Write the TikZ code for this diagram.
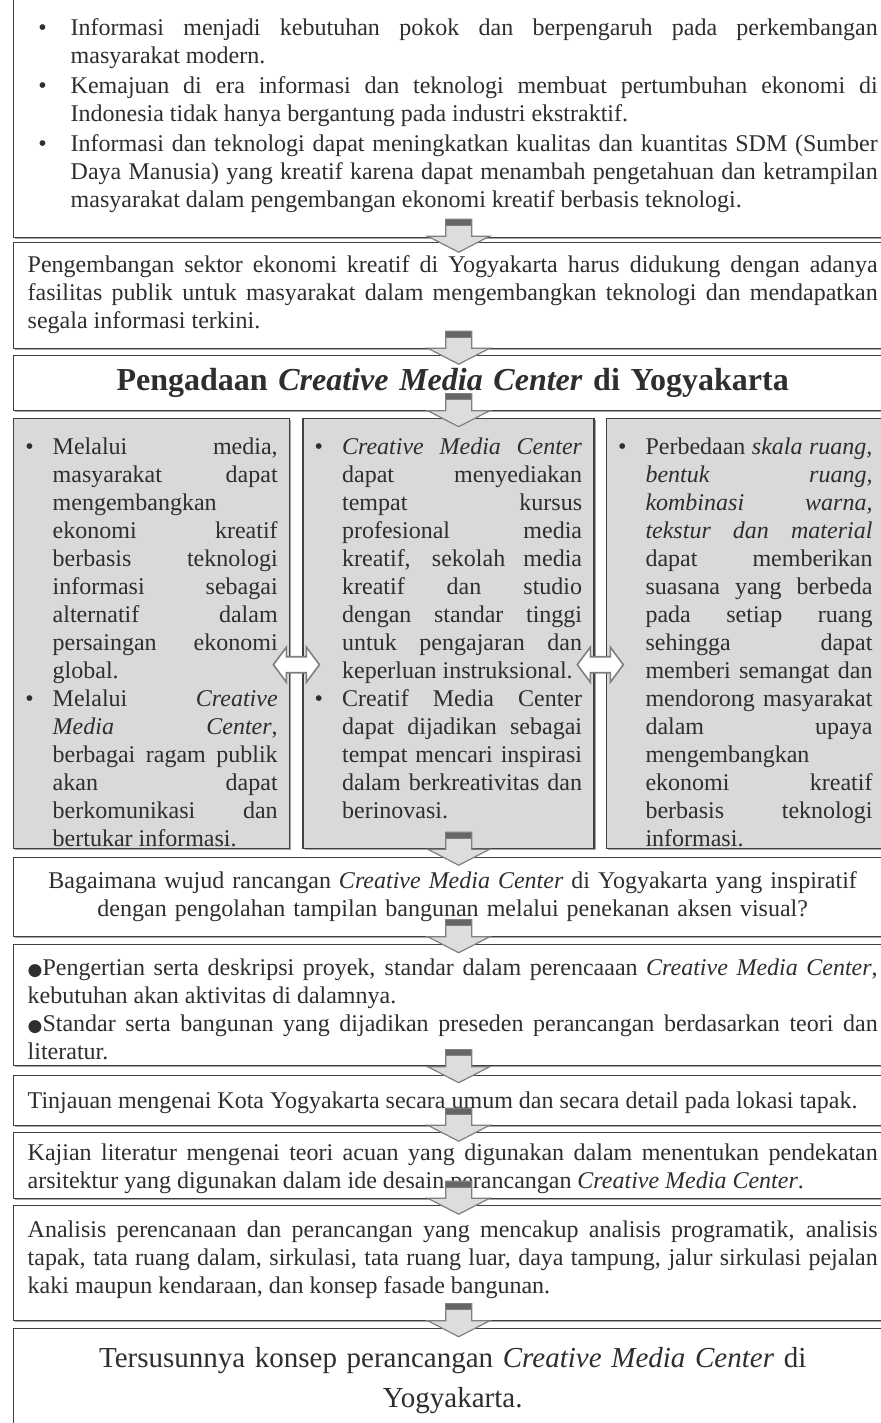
\documentclass[tikz,border=0pt]{standalone}
\usepackage{fontspec}
\setmainfont{Liberation Serif}
\newfontfamily\symfont{DejaVu Sans}
\usepackage{enumitem}
\usetikzlibrary{positioning,calc,shadows}

\definecolor{boxline}{HTML}{404040}
\definecolor{colfill}{HTML}{D9D9D9}
\definecolor{arrfill}{HTML}{DDDDDD}
\definecolor{arrline}{HTML}{7F7F7F}
\definecolor{arrcap}{HTML}{666666}
\definecolor{txt}{HTML}{2E2E2E}

\tolerance=10000
\hbadness=10000
\hyphenpenalty=10000
\exhyphenpenalty=10000

\newcommand{\cmc}{\textit{Creative Media Center}}
\newcommand{\bigdot}{{\symfont\fontsize{8.5}{8.5}\selectfont ●}}
\setlist[itemize]{topsep=0pt, partopsep=0pt, parsep=0pt, itemsep=0pt, leftmargin=13.5pt, labelsep=9.5pt}

\tikzset{
  flowbox/.style={rectangle, draw=boxline, line width=0.7pt, fill=white, text=txt,
    drop shadow={shadow xshift=0.7pt, shadow yshift=-0.7pt, fill=gray!70, opacity=1},
    inner ysep=0pt, inner xsep=7pt, anchor=north west, align=justify, text width=425pt,
    font=\fontsize{12}{14}\selectfont},
  colbox/.style={flowbox, fill=colfill, inner xsep=6pt},
  pics/downarrow/.style={code={
    \draw[arrline, line width=0.6pt, fill=arrfill] (-13,-21) -- (13,-21) -- (13,-4) -- (31,-4)
      -- (0,12) -- (-31,-4) -- (-13,-4) -- cycle;
    \draw[arrline, line width=0.6pt, fill=arrcap] (-13,-21) rectangle (13,-15);
  }},
  pics/sidearrow/.style={code={
    \draw[arrline, line width=0.8pt, fill=white] (-23,0) -- (-10,-17.5) -- (-10,-8) -- (10,-8)
      -- (10,-17.5) -- (23,0) -- (10,17.5) -- (10,8) -- (-10,8) -- (-10,17.5) -- cycle;
  }}
}

\begin{document}
\begin{tikzpicture}[x=0.5pt, y=-0.5pt]
  \useasboundingbox (0,0) rectangle (881,1423);

  \node[flowbox, text height=8.5pt, text depth=115pt] at (13,-10) (info) {%
    \begin{itemize}[leftmargin=21.5pt, labelsep=12pt, itemsep=1pt]
      \item Informasi menjadi kebutuhan pokok dan berpengaruh pada perkembangan\linebreak masyarakat modern.
      \item Kemajuan di era informasi dan teknologi membuat pertumbuhan ekonomi di\linebreak Indonesia tidak hanya bergantung pada industri ekstraktif.
      \item Informasi dan teknologi dapat meningkatkan kualitas dan kuantitas SDM (Sumber\linebreak Daya Manusia) yang kreatif karena dapat menambah pengetahuan dan ketrampilan\linebreak masyarakat dalam pengembangan ekonomi kreatif berbasis teknologi.
    \end{itemize}};
  \node[flowbox, text height=15pt, text depth=38pt] at (13,242) (sektor) {Pengembangan sektor ekonomi kreatif di Yogyakarta harus didukung dengan adanya\linebreak fasilitas publik untuk masyarakat dalam mengembangkan teknologi dan mendapatkan\linebreak segala informasi terkini.};
  \node[flowbox, align=center, font=\bfseries\fontsize{16}{19}\selectfont, text height=17.5pt, text depth=10pt] at (13,355) (judul) {Pengadaan \cmc{} di Yogyakarta};

  % three columns
  \node[colbox, text width=126pt, text height=4pt, text depth=211pt] at (13,418) (media) {%
    \begin{itemize}
      \item Melalui media,\linebreak masyarakat dapat\linebreak mengembangkan\linebreak ekonomi kreatif\linebreak berbasis teknologi\linebreak informasi sebagai\linebreak alternatif dalam\linebreak persaingan ekonomi\linebreak global.
      \item Melalui \textit{Creative}\linebreak \textit{Media Center},\linebreak berbagai ragam publik\linebreak akan dapat\linebreak berkomunikasi dan\linebreak bertukar informasi.
    \end{itemize}};
  \node[colbox, text width=133.5pt, text height=4pt, text depth=211pt, right=6pt of media] (kursus) {%
    \begin{itemize}
      \item \cmc\linebreak dapat menyediakan\linebreak tempat kursus\linebreak profesional media\linebreak kreatif, sekolah media\linebreak kreatif dan studio\linebreak dengan standar tinggi\linebreak untuk pengajaran dan\linebreak keperluan instruksional.
      \item Creatif Media Center\linebreak dapat dijadikan sebagai\linebreak tempat mencari inspirasi\linebreak dalam berkreativitas dan\linebreak berinovasi.
    \end{itemize}};
  \node[colbox, text width=127pt, text height=4pt, text depth=211pt, right=5.5pt of kursus] (suasana) {%
    \begin{itemize}
      \item Perbedaan \textit{skala ruang,}\linebreak \textit{bentuk ruang,}\linebreak \textit{kombinasi warna,}\linebreak \textit{tekstur dan material}\linebreak dapat memberikan\linebreak suasana yang berbeda\linebreak pada setiap ruang\linebreak sehingga dapat\linebreak memberi semangat dan\linebreak mendorong masyarakat\linebreak dalam upaya\linebreak mengembangkan\linebreak ekonomi kreatif\linebreak berbasis teknologi\linebreak informasi.
    \end{itemize}};

  \node[flowbox, align=center, text height=15.5pt, text depth=24pt] at (13,857) (wujud) {Bagaimana wujud rancangan \cmc{} di Yogyakarta yang inspiratif\\ dengan pengolahan tampilan bangunan melalui penekanan aksen visual?};
  \node[flowbox, text height=15.5pt, text depth=45pt] at (13,944) (proyek) {\bigdot Pengertian serta deskripsi proyek, standar dalam perencaaan \cmc,\linebreak kebutuhan akan aktivitas di dalamnya.\par
    \bigdot Standar serta bangunan yang dijadikan preseden perancangan berdasarkan teori dan\linebreak literatur.};
  \node[flowbox, text height=16.5pt, text depth=8.5pt] at (13,1075) (tapak) {Tinjauan mengenai Kota Yogyakarta secara umum dan secara detail pada lokasi tapak.};
  \node[flowbox, text height=14pt, text depth=19pt] at (13,1132) (teori) {Kajian literatur mengenai teori acuan yang digunakan dalam menentukan pendekatan\linebreak arsitektur yang digunakan dalam ide desain perancangan \cmc.};
  \node[flowbox, text height=16pt, text depth=41.5pt] at (13,1205) (analisis) {Analisis perencanaan dan perancangan yang mencakup analisis programatik, analisis\linebreak tapak, tata ruang dalam, sirkulasi, tata ruang luar, daya tampung, jalur sirkulasi pejalan\linebreak kaki maupun kendaraan, dan konsep fasade bangunan.};
  \node[flowbox, align=center, font=\fontsize{14.5}{20}\selectfont, text height=19.5pt, text depth=50pt] at (13,1328) (konsep) {Tersusunnya konsep perancangan \cmc{} di\\ Yogyakarta.};

  % block arrows
  \pic[xshift=3pt] at ($(info.south)!.5!(sektor.north)$) {downarrow};
  \pic[xshift=3pt] at ($(sektor.south)!.5!(judul.north)$) {downarrow};
  \pic[xshift=3pt] at ($(judul.south)!.5!(judul.south |- kursus.north)$) {downarrow};
  \pic[xshift=3pt] at ($(wujud.north |- kursus.south)!.5!(wujud.north)$) {downarrow};
  \pic[xshift=3pt] at ($(wujud.south)!.5!(proyek.north)$) {downarrow};
  \pic[xshift=3pt] at ($(proyek.south)!.5!(tapak.north)$) {downarrow};
  \pic[xshift=3pt] at ($(tapak.south)!.5!(teori.north)$) {downarrow};
  \pic[xshift=3pt] at ($(teori.south)!.5!(analisis.north)$) {downarrow};
  \pic[xshift=3pt] at ($(analisis.south)!.5!(konsep.north)$) {downarrow};

  \pic at ($(media.east)!.5!(kursus.west)+(0,31)$) {sidearrow};
  \pic at ($(kursus.east)!.5!(suasana.west)+(0,31)$) {sidearrow};
\end{tikzpicture}
\end{document}
